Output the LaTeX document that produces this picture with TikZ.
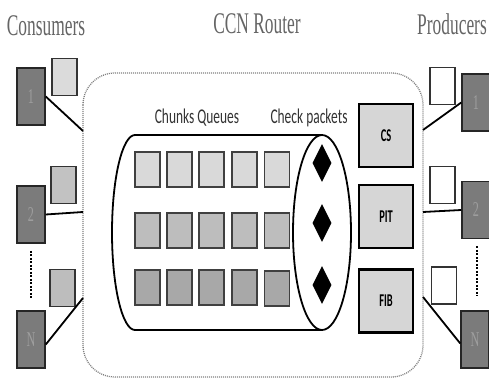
\documentclass[tikz,border=0pt]{standalone}
\usepackage{fontspec}
\setmainfont{Liberation Serif}
\newfontfamily\labelfont{Carlito}
\usepackage{graphicx}
\usetikzlibrary{shapes.geometric}
\definecolor{hostgray}{HTML}{7B7B7B}
\definecolor{hosttext}{HTML}{9E9E9E}
\definecolor{titlegray}{HTML}{656565}
\newcommand{\squeeze}[1]{\scalebox{0.58}[1]{#1}}
\tikzset{
    node style title/.style={font=\fontsize{30}{30}\selectfont,text=titlegray,inner sep=0pt},
    node style head/.style={font=\labelfont\fontsize{21}{21}\selectfont,text=black!80,inner sep=0pt},
    node style host/.style={draw=black!85,line width=1.5,fill=hostgray,minimum width=28,minimum height=57,inner sep=0pt,text=hosttext,font=\fontsize{21}{21}\selectfont},
    node style buf/.style={draw=black!80,line width=1.3,minimum width=25,minimum height=37,inner sep=0pt},
    node style chunk/.style={draw=black!75,line width=1.2,minimum width=25,minimum height=35,inner sep=0pt},
    node style table/.style={draw,line width=2.6,fill=gray!32,minimum width=54,minimum height=63,inner sep=0pt,font=\labelfont\bfseries\fontsize{18}{18}\selectfont},
    node style check/.style={diamond,fill=black,minimum width=19,minimum height=38,inner sep=0pt},
    arrow style link/.style={line width=1.8},
    arrow style more/.style={line width=2.6,dash pattern=on 2pt off 1.5pt},
}
\begin{document}
\begin{tikzpicture}[x=1pt,y=-1pt]
\useasboundingbox (0,0) rectangle (489,379);

% titles
\node[node style title] (tcons) at (46,26) {\squeeze{Consumers}};
\node[node style title] (trout) at (257,24) {\squeeze{CCN Router}};
\node[node style title] (tprod) at (452,24) {\squeeze{Producers}};

% router
\draw[draw=gray,line width=1.3,dash pattern=on 1pt off 1pt,rounded corners=32] (83,73) rectangle (423,377);
\coordinate (b1) at (83,131);
\coordinate (b2) at (83,212);
\coordinate (bn) at (83,298);
\coordinate (q1) at (423,130);
\coordinate (q2) at (423,212);
\coordinate (qn) at (423,297);

\node[node style head] (hqueue) at (197,118) {\scalebox{0.64}[1]{Chunks Queues}};
\node[node style head] (hcheck) at (309,118) {\scalebox{0.64}[1]{Check packets}};

% cylinder
\draw[line width=1.8] (322,135) -- (135,135) arc[start angle=270,end angle=90,x radius=23,y radius=97.5] -- (322,330);
\draw[line width=1.8] (322,232.5) ellipse [x radius=29,y radius=97.5];

% queues
\node[node style chunk,fill=gray!30] (k11) at (147.5,169.5) {};
\node[node style chunk,fill=gray!30] (k12) at (179.5,169.5) {};
\node[node style chunk,fill=gray!30] (k13) at (211.5,169.5) {};
\node[node style chunk,fill=gray!30] (k14) at (244.5,169.5) {};
\node[node style chunk,fill=gray!30] (k15) at (277,169.5) {};
\node[node style chunk,fill=gray!52] (k21) at (147.5,230.5) {};
\node[node style chunk,fill=gray!52] (k22) at (179.5,230.5) {};
\node[node style chunk,fill=gray!52] (k23) at (211.5,230.5) {};
\node[node style chunk,fill=gray!52] (k24) at (244.5,230.5) {};
\node[node style chunk,fill=gray!52] (k25) at (277,230.5) {};
\node[node style chunk,fill=gray!68] (k31) at (147.5,287.5) {};
\node[node style chunk,fill=gray!68] (k32) at (179.5,287.5) {};
\node[node style chunk,fill=gray!68] (k33) at (211.5,287.5) {};
\node[node style chunk,fill=gray!68] (k34) at (244.5,287.5) {};
\node[node style chunk,fill=gray!68] (k35) at (277,288.5) {};

\node[node style check] (d1) at (322,163) {};
\node[node style check] (d2) at (322,223) {};
\node[node style check] (d3) at (322,285) {};

% tables
\node[node style table] (cs)  at (386,135.5) {\squeeze{CS}};
\node[node style table] (pit) at (386,216.5) {\squeeze{PIT}};
\node[node style table] (fib) at (386,301) {\squeeze{FIB}};

% consumers
\node[node style host] (c1) at (31,96.5) {\squeeze{1}};
\node[node style host] (c2) at (31,214.5) {\squeeze{2}};
\node[node style host] (cn) at (31,339.5) {\squeeze{N}};
\node[node style buf,fill=gray!28] (u1) at (64.5,77) {};
\node[node style buf,fill=gray!48] (u2) at (63.5,185) {};
\node[node style buf,fill=gray!52] (un) at (62.5,288) {};
\draw[arrow style link] (c1.east) -- (b1);
\draw[arrow style link] (c2.east) -- (b2);
\draw[arrow style link] ([yshift=-5]cn.east) -- (bn);
\draw[arrow style more] ([yshift=-7]c2.south) -- ([yshift=11]cn.north);

% producers
\node[node style host] (p1) at (476,102.5) {\squeeze{1}};
\node[node style host] (p2) at (476,210) {\squeeze{2}};
\node[node style host] (pn) at (475,339.5) {\squeeze{N}};
\node[node style buf,fill=white] (v1) at (442.5,86) {};
\node[node style buf,fill=white] (v2) at (442.5,185) {};
\node[node style buf,fill=white] (vn) at (444,285.5) {};
\draw[arrow style link] (q1) -- (p1.west);
\draw[arrow style link] (q2) -- (p2.west);
\draw[arrow style link] (qn) -- ([yshift=-4]pn.west);
\draw[arrow style more] ([xshift=1,yshift=-7]p2.south) -- ([xshift=2,yshift=14]pn.north);

\end{tikzpicture}
\end{document}
